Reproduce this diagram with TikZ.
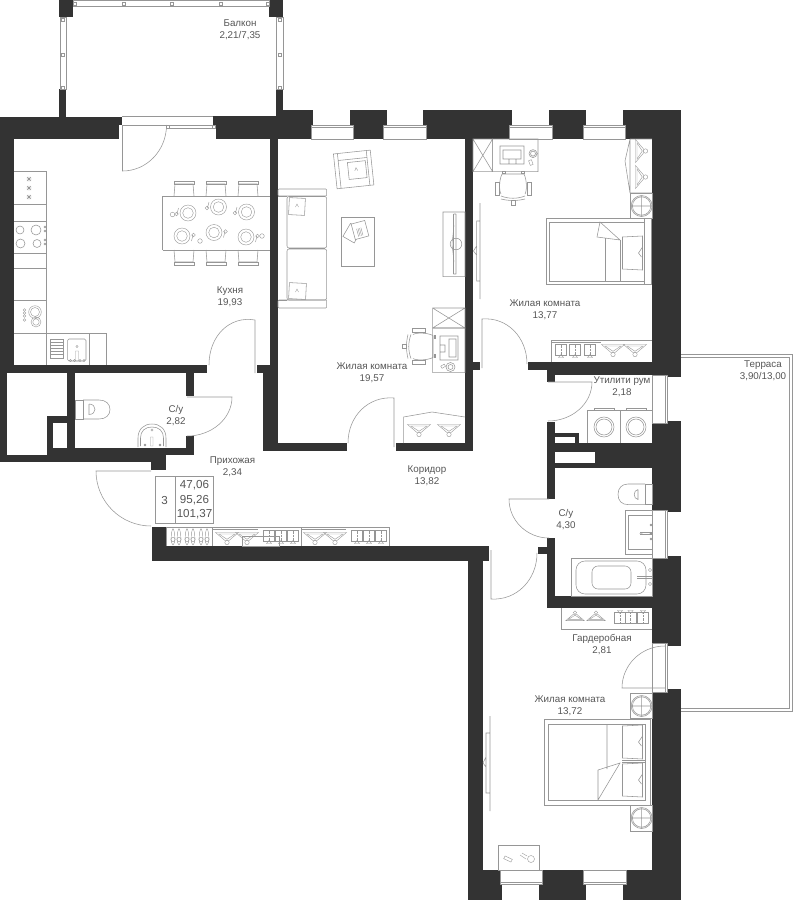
\documentclass[tikz,border=0pt]{standalone}
\usepackage{fontspec}
\setmainfont{Liberation Sans}
\definecolor{wallc}{HTML}{333333}
\definecolor{linec}{HTML}{969696}
\definecolor{textc}{HTML}{555555}
\newcommand{\wall}[4]{\fill[wallc] (#1,#2) rectangle (#3,#4);}
\newcommand{\xbox}[4]{\draw[thinl] (#1,#2) rectangle (#3,#4) (#1,#2) -- (#3,#4) (#3,#2) -- (#1,#4);}
\newcommand{\sq}[2]{\draw[thinl,fill=white] (#1-1.6,#2-1.6) rectangle (#1+1.6,#2+1.6);}
% door: hinge (#1,#2), leaf end offset (#3,#4), swing end offset (#5,#6)
\newcommand{\door}[6]{\draw[thinl] (#1,#2) -- ({#1+#3},{#2+#4}) .. controls ({#1+#3+.5523*#5},{#2+#4+.5523*#6}) and ({#1+#5+.5523*#3},{#2+#6+.5523*#4}) .. ({#1+#5},{#2+#6});}
\tikzset{
  x=1pt,y=-1pt,
  thinl/.style={draw=linec,line width=.55pt},
  finel/.style={draw=linec,line width=.4pt},
  lab/.style={text=textc,font=\fontsize{9.8}{11.6}\selectfont,align=center,inner sep=0pt},
  num/.style={text=textc,font=\fontsize{11.6}{12}\selectfont,inner sep=0pt},
  hangerp/.pic={\draw[finel] (-11.5,-4.5)--(11.5,-4.5)--(2,3.5)--(-2,3.5)--cycle (-8,-3)--(8,-3)--(0,2.3)--cycle; \draw[finel] (0,5.5) circle (2.2);},
  foldp/.pic={\draw[finel] (-5.5,-5.5) rectangle (5.5,5.5); \draw[finel,densely dotted] (0,-5.5)--(0,5); \draw[finel] (-2.5,7.5)--(0,4.5)--(2.5,7.5)--cycle;},
  shoep/.pic={\draw[finel] (-3,-8) .. controls (-6,-3) and (-5,8) .. (-3,8.5) .. controls (-1,8) and (0,-3) .. (-3,-8); \draw[finel] (3,-8) .. controls (0,-3) and (1,8) .. (3,8.5) .. controls (5,8) and (6,-3) .. (3,-8); \draw[finel] (-3,3) circle (2.2) (3,3) circle (2.2);},
  kchairp/.pic={\draw[thinl] (-10,0)--(-9,-12)--(9,-12)--(10,0); \draw[thinl] (-10,-15) rectangle (10,-12);},
  platep/.pic={\draw[finel] (0,0) circle (8) (0,0) circle (5.3); \draw[finel] (-9.5,-5)--(-11,1) (-11.5,1) circle (1.8);},
  ochairp/.pic={\draw[thinl] (-11,-15) rectangle (-8,-16.5) (8,-15) rectangle (11,-16.5);
    \draw[thinl] (-11,-14) -- (11,-14) (-12,8) .. controls (-4,11) and (4,11) .. (12,8) (-11,-14) .. controls (-14,-8) and (-14,3) .. (-12,6) (11,-14) .. controls (14,-8) and (14,3) .. (12,6) (-12,11) .. controls (-4,13) and (4,13) .. (12,11);
    \draw[thinl] (-18,-6) rectangle (-14,7) (14,-6) rectangle (18,7) (-2,12.5) rectangle (2,17);},
  basket/.pic={\draw[thinl] (0,0) circle (10.5) (0,0) circle (9.2) (-10,0)--(10,0) (0,-10)--(0,10);},
  pillowp/.pic={\draw[thinl] (-10,-16) -- (10,-17) -- (10,17) -- (-10,16) -- cycle; \draw[thinl] (10,-6)--(6,0)--(9,4);}
}
\begin{document}
\begin{tikzpicture}
\useasboundingbox (0,0) rectangle (803,900);
% --- walls ---
\wall{59}{0}{73}{17}\wall{269}{0}{283}{17}
\wall{59}{89}{66}{117}\wall{276}{89}{283}{117}
\wall{0}{117}{119}{139}\wall{119}{117}{122}{125}
\wall{213}{116}{216}{125}\wall{216}{116}{283}{139}
\wall{283}{110}{313}{125}\wall{350}{110}{387}{125}\wall{423}{110}{512}{125}\wall{549}{110}{586}{125}\wall{623}{110}{681}{125}
\wall{270}{125}{311}{139}\wall{353}{125}{383}{139}\wall{426}{125}{509}{139}\wall{552}{125}{583}{139}\wall{625}{125}{681}{139}
\wall{652}{139}{681}{375}\wall{667}{375}{681}{377}\wall{667}{421}{681}{423}
\wall{652}{423}{681}{510}\wall{667}{510}{681}{512}\wall{667}{556}{681}{558}
\wall{652}{558}{681}{643}\wall{667}{643}{681}{646}\wall{667}{689}{681}{692}\wall{652}{692}{681}{900}
\wall{483}{870}{500}{884}\wall{542}{870}{583}{884}\wall{626}{870}{681}{884}
\wall{468}{884}{502}{900}\wall{539}{884}{586}{900}\wall{623}{884}{681}{900}
\wall{468}{561}{483}{900}
\wall{0}{117}{14}{373}\wall{0}{373}{6.6}{462}\wall{0}{455}{151}{462}
\wall{47}{416}{53}{462}\wall{47}{416}{67}{422.6}\wall{67}{373}{75}{447.6}
\wall{53}{447.6}{194}{455}\wall{14}{365}{207}{373}
\wall{186}{373}{194}{396}\wall{186}{436}{194}{455}\wall{151}{455}{166}{470}
\wall{270}{139}{278}{365}\wall{257}{365}{278}{373}\wall{263}{373}{278}{451}
\wall{263}{443}{347}{451}\wall{396}{443}{473}{451}\wall{465}{139}{473}{451}
\wall{473}{362}{480}{370}\wall{528}{362}{555}{370}\wall{547}{362}{652}{375}\wall{547}{370}{555}{382}
\wall{547}{422}{555}{499}\wall{547}{443}{652}{452}\wall{595}{452}{652}{463}\wall{547}{463}{652}{468}
\wall{555}{433}{579}{437}\wall{575}{433}{579}{443}
\wall{547}{538}{555}{608}\wall{547}{596}{652}{608}\wall{538}{547}{547}{554}
\wall{468}{546}{489}{554}\wall{152}{527}{166}{561}\wall{152}{546}{489}{561}
% --- balcony glazing ---
\draw[finel] (73,.5) rectangle (269,6.5);
\draw[finel] (60,17) rectangle (66,89) (276,17) rectangle (283,89);
\sq{75}{3.5}\sq{124}{3.5}\sq{172}{3.5}\sq{220.7}{3.5}\sq{268}{3.5}
\sq{63}{20}\sq{63}{55}\sq{63}{88}\sq{279.5}{20}\sq{279.5}{55}\sq{279.5}{88}
\draw[thinl] (122,116)--(213,116) (122,125)--(213,125) (167,128)--(213,128);
\sq{168}{126.5}\sq{214}{126.5}
% --- windows ---
\draw[thinl] (311,139)--(311,125)--(353,125)--(353,139)--cycle (311,127)--(353,127);
\draw[thinl] (383,139)--(383,125)--(426,125)--(426,139)--cycle (383,127)--(426,127);
\draw[thinl] (509,139)--(509,125)--(552,125)--(552,139)--cycle (509,127)--(552,127);
\draw[thinl] (583,139)--(583,125)--(625,125)--(625,139)--cycle (583,127)--(625,127);
\draw[thinl] (652.5,375) rectangle (667,423) (665,375)--(665,423);
\draw[thinl] (652.5,510) rectangle (667,558) (665,510)--(665,558);
\draw[thinl] (652.5,643) rectangle (667,692) (665,643)--(665,692);
\draw[thinl] (500,870) rectangle (542,884) (500,882)--(542,882);
\draw[thinl] (583,870) rectangle (626,884) (583,882)--(626,882);
% --- terrace ---
\draw[thinl] (681,354.5)--(792,354.5)--(792,711.7)--(681,711.7) (681,357.5)--(789,357.5)--(789,708)--(681,708);
% --- doors ---
\door{122.5}{125}{0}{46}{44}{0}
\door{255}{373}{0}{-53}{-46}{-8}
\door{187}{397}{45}{0}{0}{39}
\door{151}{471}{-55}{0}{0}{55}
\door{394}{447}{0}{-49}{-46}{-4}
\door{482}{368}{0}{-49}{45}{-4}
\door{548}{382}{44}{0}{0}{39}
\door{549}{499}{-40}{0}{0}{39}
\door{491}{550}{0}{49}{46}{3}
\door{665}{688}{-43}{0}{0}{-42}
% --- kitchen ---
\draw[thinl] (14,171)--(46.5,171)--(46.5,365) (14,204)--(46.5,204) (14,221)--(46.5,221) (14,253.6)--(46.5,253.6) (14,268)--(46.5,268) (14,300)--(46.5,300) (14,333)--(106,333)--(106,365) (89,333)--(89,365);
\foreach \yy in {179,188,197}{\draw[finel] (26.5,\yy)--(31.5,\yy) (29,\yy-2.5)--(29,\yy+2.5) (27,\yy-2)--(31,\yy+2) (27,\yy+2)--(31,\yy-2);}
\draw[thinl] (20,230) circle (4) (36,230) circle (5) (20.5,243.5) circle (4.5) (37,243.5) circle (4);
\foreach \yy in {227,231,240,244}{\draw[finel] (45,\yy) circle (1);}
\draw[finel] (35,312) circle (6.3) (35,312) circle (4.5) (36,322) circle (5) (36,322) circle (3.2);
\foreach \yy in {310,313,316,320}{\draw[finel] (24.5,\yy) circle (1.3);}
\draw[finel] (50,339.6) rectangle (63,358);
\foreach \yy in {342.6,345.6,348.6,351.6,354.6}{\draw[finel] (50,\yy)--(63,\yy);}
\draw[thinl,rounded corners=1.5pt] (67.6,339) rectangle (86,361);
\draw[finel] (77,346.5) circle (1.2) (75.5,351) rectangle (78.5,361);
\foreach \xx in {70.5,74.5,80,84}{\draw[finel] (\xx,360.5) circle (1.2);}
% table
\draw[thinl] (162.6,196)--(270,196) (162.6,250)--(270,250) (162.6,196)--(162.6,250);
\pic at (184,196) {kchairp}; \pic at (216,196) {kchairp}; \pic at (248,196) {kchairp};
\pic[rotate=180] at (184,250) {kchairp}; \pic[rotate=180] at (216,250) {kchairp}; \pic[rotate=180] at (248,250) {kchairp};
\pic at (188,213) {platep}; \pic at (218.5,207) {platep}; \pic at (246.5,212) {platep};
\pic[rotate=180] at (182,236) {platep}; \pic[rotate=180] at (214,232.5) {platep}; \pic[rotate=180] at (246,237) {platep};
\draw[finel] (172.5,214.5) circle (2.3) (200,241) circle (2.3) (262,236) circle (2.3);
% --- living room ---
\draw[thinl,rounded corners=1pt] (278,189) rectangle (326.7,196) (278,300) rectangle (326.7,308);
\draw[thinl,rounded corners=2pt] (287,196.5) rectangle (326.7,248) (287,249) rectangle (326.7,300);
\draw[thinl] (278,196)--(287,196) (278,300)--(287,300);
\draw[thinl,rotate around={-3:(297,206)}] (289,198) rectangle (305,215);
\draw[thinl,rotate around={-3:(297,291)}] (289,283) rectangle (306,299);
\draw[finel] (297,206) ++(-1.5,1)--++(1.5,-3)--++(1.5,3) (297,291) ++(-1.5,1)--++(1.5,-3)--++(1.5,3);
\begin{scope}[shift={(353,168)},rotate=6]
\draw[thinl] (-18,-16) rectangle (-14,19) (15,-16) rectangle (19,19) (-14,-16) rectangle (15,-9) (-14,-9) rectangle (15,19);
\draw[thinl] (-5,-6) rectangle (13,11);
\draw[finel] (3,2) ++(-1.5,1)--++(1.5,-3)--++(1.5,3);
\end{scope}
\draw[thinl] (341,217) rectangle (374,266);
\draw[thinl,rotate around={-30:(353,233)}] (346,226) rectangle (359,241);
\draw[thinl,fill=white,rotate around={15:(360,230)}] (353,222) rectangle (367,238);
\foreach \dx in {0,1.5,3,4.5}{\draw[finel,rotate around={15:(360,230)}] (357+\dx,228)--(357+\dx,236);}
\draw[thinl] (443,212) rectangle (465,276.6) (453.5,214)--(453.5,274) (456,214)--(456,274) (453.5,214)--(456,214) (453.5,274)--(456,274) (456,244) circle (5.8);
\draw[finel] (454,225)--(452,244)--(454,262);
\xbox{432.6}{308}{465}{328}
\draw[thinl] (432.6,328) rectangle (465,372.6) (440,336) rectangle (458,360) (449,339) rectangle (456,357) (440,345) rectangle (445,352) (450.5,367) circle (4.5) (450.5,367) circle (2.5);
\draw[finel,rotate around={30:(443,366)}] (441,365) rectangle (445,367.5);
\pic[rotate=-90] at (419,346.5) {ochairp};
\draw[thinl] (403.6,443)--(403.6,417)--(432,412)--(465,417);
\pic at (419,429) {hangerp}; \pic at (449,429) {hangerp};
% --- bedroom 1 ---
\xbox{473}{139}{492.6}{171.6}
\draw[thinl] (492.6,139) rectangle (538,171.6) (500,146) rectangle (524,164) (503,150) rectangle (521,159) (509,159) rectangle (516,164) (533,153.6) circle (4) (533,153.6) circle (2.5);
\draw[finel,rotate around={20:(531,163)}] (529.5,160) rectangle (532.5,165);
\pic at (513,188) {ochairp};
\draw[thinl] (480,203)--(480,299) (476.6,221) rectangle (480,281) (476.6,246)--(473.5,251)--(476.6,255);
\draw[thinl] (630,139)--(652,139) (630,193)--(652,193) (630,139)--(625,161)--(630,193)--(630,139);
\pic[rotate=90] at (640,151) {hangerp}; \pic[rotate=90] at (640,177) {hangerp};
\draw[thinl] (630,193) rectangle (652,218.6); \pic at (641.6,206) {basket};
\draw[thinl,fill=white] (546,218.6) rectangle (651,284) (549,222) rectangle (644,281) (644,218.6)--(644,284);
\draw[thinl] (605.5,238)--(605.5,281) (620.5,240)--(620.5,281);
\draw[thinl] (600,222)--(597,237)--(620,240)--cycle;
\pic[rotate=0] at (632.5,253) {pillowp};
\draw[thinl] (551,362)--(551,340)--(652,340) (551,342)--(601,342);
\pic at (561,350) {foldp}; \pic at (575,350) {foldp}; \pic at (590,350) {foldp};
\pic at (613,349) {hangerp}; \pic at (635,349) {hangerp};
% --- utility ---
\draw[thinl] (587.6,443)--(587.6,410)--(652,410) (620,410)--(620,443) (594,410)--(594,408.5)--(614,408.5)--(614,410) (626,410)--(626,408.5)--(646,408.5)--(646,410);
\draw[thinl] (604,427) circle (10) (604,427) circle (8) (636,427) circle (10) (636,427) circle (8);
% --- wc 2 ---
\draw[thinl] (645,484) rectangle (652,504.6);
\draw[thinl] (645,484) -- (628,484) .. controls (622,484) and (618,488) .. (618,494.3) .. controls (618,501) and (622,504.6) .. (628,504.6) -- (645,504.6);
\draw[thinl] (638,489.5) .. controls (633,490) and (633,499) .. (638,499.5) -- (638,489.5);
\draw[thinl] (625,510.6) rectangle (652,554) (628,515) rectangle (652,549) (640,532.5) -- (652,532.5) (640,534.5)--(652,534.5);
\draw[finel] (641,533.5) circle (1.2);
\fill[linec] (651,525) circle (1.3) (651,533.5) circle (1.3) (651,539) circle (1.3);
\draw[thinl] (571.6,558.6) rectangle (652,596);
\draw[thinl,rounded corners=9pt] (576,561) rectangle (646,594);
\draw[thinl,rounded corners=6pt] (592,566) rectangle (631,589);
\draw[thinl] (637,576)--(652,576) (637,578)--(652,578);
\draw[finel] (650,570) circle (1.7) (650,584) circle (1.7);
% --- wardrobe ---
\draw[thinl] (561,608)--(561,629)--(652,629);
\pic[rotate=180,scale=.8] at (575,617) {hangerp}; \pic[rotate=180,scale=.8] at (596,617) {hangerp};
\pic[rotate=180] at (620,618) {foldp}; \pic[rotate=180] at (630.5,618) {foldp}; \pic[rotate=180] at (643,618) {foldp};
% --- bedroom 2 ---
\draw[thinl] (630.6,693) rectangle (652,718); \pic at (641.6,706) {basket};
\draw[thinl] (630.6,805) rectangle (652,831); \pic at (641.6,818) {basket};
\draw[thinl,fill=white] (544,719) rectangle (650,805) (548,724) rectangle (645,800);
\draw[thinl] (607,724)--(607,769) (598,770)--(598,800) (598,770)--(620,763)--(598,800);
\draw[thinl] (622,760)--(645,760) (622,762)--(645,762);
\pic at (632.5,742) {pillowp}; \pic at (632.5,780) {pillowp};
\draw[thinl] (490,716)--(490,811) (486,733) rectangle (490,793) (486,757)--(483,763)--(486,767);
\draw[thinl] (498,845) rectangle (539.6,870);
\draw[finel,rotate around={-25:(508,859)}] (504,857.5) rectangle (512,860.5);
\draw[finel] (520,855)--(526,859) (522,853)--(527,856) (531,859) circle (3.5);
% --- wc 1 ---
\draw[thinl] (75,400) rectangle (83,419);
\draw[thinl] (83,400)--(99,400) .. controls (106,400) and (110,404) .. (110,409.5) .. controls (110,415) and (106,419) .. (99,419)--(83,419);
\draw[thinl] (89,404) -- (89,414.5) .. controls (97,414.5) and (97,404) .. (89,404);
\draw[thinl] (138,447)--(138,438) .. controls (138,429) and (144,424) .. (152,424) .. controls (160,424) and (166,429) .. (166,438)--(166,447);
\draw[thinl] (140.5,446)--(140.5,438) .. controls (140.5,431) and (145,427) .. (152,427) .. controls (159,427) and (163.5,431) .. (163.5,438)--(163.5,446);
\draw[finel] (150.5,437) rectangle (153,446) (152,430) circle (1.2);
\fill[linec] (145,445) circle (1.3) (160,445) circle (1.3);
% --- info box ---
\draw[thinl] (155.6,476.6) rectangle (213,523) (175.6,476.6)--(175.6,523);
% --- closets ---
\draw[thinl] (166,527)--(389,527)--(389,546) (166,546)--(166,527) (212.6,527)--(212.6,546) (301,527)--(301,546) (212.6,529)--(258,529) (301,529)--(346,529);
\pic at (176,536.5) {shoep}; \pic at (190,536.5) {shoep}; \pic at (204,536.5) {shoep};
\pic at (227,537) {hangerp}; \pic at (247,537) {hangerp};
\pic at (269,536) {foldp}; \pic at (281,536) {foldp}; \pic at (293,536) {foldp};
\pic at (315,537) {hangerp}; \pic at (335,537) {hangerp};
\pic at (357,536) {foldp}; \pic at (369,536) {foldp}; \pic at (381,536) {foldp};
\draw[thinl] (242,536.6) rectangle (279,546);
% --- labels ---
\node[lab] (balcony) at (240,29.5) {Балкон\\2,21/7,35};
\node[lab] (kitchen) at (230,296.5) {Кухня\\19,93};
\node[lab] (living) at (372,373) {Жилая комната\\19,57};
\node[lab] (bed1) at (545,309.5) {Жилая комната\\13,77};
\node[lab] (util) at (622,386.5) {Утилити рум\\2,18};
\node[lab] (wca) at (176,415.5) {С/у\\2,82};
\node[lab] (hall) at (232.5,466.5) {Прихожая\\2,34};
\node[lab] (corr) at (427,476) {Коридор\\13,82};
\node[lab] (wcb) at (566,519.5) {С/у\\4,30};
\node[lab] (ward) at (602,644.5) {Гардеробная\\2,81};
\node[lab] (bed2) at (570,706) {Жилая комната\\13,72};
\node[lab] (terr) at (763,371) {Терраса\\3,90/13,00};
\node[num] (rooms) at (164.5,500) {3};
\node[num] (ar1) at (194.5,485) {47,06};
\node[num] (ar2) at (194.5,500) {95,26};
\node[num] (ar3) at (194.5,514.5) {101,37};
\end{tikzpicture}
\end{document}
